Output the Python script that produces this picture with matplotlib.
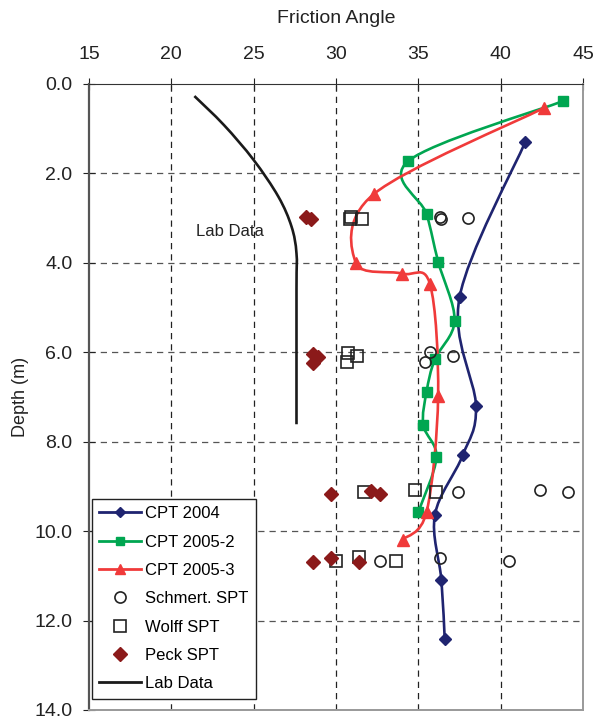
import matplotlib
matplotlib.use("Agg")
import matplotlib.pyplot as plt
from matplotlib.path import Path
from matplotlib.patches import PathPatch
from matplotlib.lines import Line2D
import numpy as np

plt.rcParams['font.family'] = ['Liberation Sans', 'DejaVu Sans']

# friction angle (deg) vs depth (m)
cpt2004_phi = [41.5, 37.5, 38.5, 37.7, 36.0, 36.4, 36.6]
cpt2004_z = [1.29, 4.77, 7.20, 8.30, 9.64, 11.10, 12.42]

cpt2005_2_phi = [43.8, 34.4, 35.5, 36.2, 37.2, 36.0, 35.5, 35.3, 36.1, 35.0]
cpt2005_2_z = [0.38, 1.72, 2.91, 3.97, 5.29, 6.16, 6.88, 7.63, 8.35, 9.57]

cpt2005_3_phi = [42.6, 32.3, 31.2, 34.0, 35.7, 36.2, 35.5, 34.05]
cpt2005_3_z = [0.54, 2.46, 4.00, 4.24, 4.47, 6.98, 9.57, 10.19]

schmert_phi = [36.3, 36.4, 38.0, 35.7, 35.4, 37.1, 37.4, 42.4, 44.1, 32.7, 36.3, 40.5]
schmert_z = [2.97, 3.03, 3.00, 6.00, 6.22, 6.09, 9.13, 9.08, 9.13, 10.66, 10.60, 10.66]

wolff_phi = [30.9, 30.85, 31.6, 30.75, 30.65, 31.3, 31.7, 34.8, 36.1, 30.0, 31.4, 33.65]
wolff_z = [2.98, 3.03, 3.03, 6.01, 6.22, 6.09, 9.13, 9.08, 9.13, 10.66, 10.59, 10.66]

peck_phi = [28.2, 28.5, 28.6, 28.9, 28.6, 29.7, 32.1, 32.7, 28.6, 29.7, 31.4]
peck_z = [2.98, 3.03, 6.03, 6.10, 6.23, 9.16, 9.10, 9.16, 10.69, 10.61, 10.69]

lab_phi = [21.4, 23.2, 25.0, 26.5, 27.3, 27.6, 27.6, 27.6]
lab_z = [0.27, 0.92, 1.70, 2.52, 3.19, 3.79, 4.6, 7.61]


def smooth_path(xs, ys):
    # Catmull-Rom style bezier through the points (like a smoothed spreadsheet line)
    p = np.column_stack([xs, ys]).astype(float)
    n = len(p)
    verts = [p[0]]
    codes = [Path.MOVETO]
    for i in range(n - 1):
        p0 = p[i - 1] if i > 0 else p[i]
        p3 = p[i + 2] if i + 2 < n else p[i + 1]
        c1 = p[i] + (p[i + 1] - p0) / 6.0
        c2 = p[i + 1] - (p3 - p[i]) / 6.0
        verts += [c1, c2, p[i + 1]]
        codes += [Path.CURVE4] * 3
    return Path(verts, codes)


fig = plt.figure(figsize=(5.98, 7.21), dpi=100)
ax = fig.add_axes([0.1488, 0.0153, 0.8262, 0.8682])

navy = '#1f2470'
green = '#00a651'
red = '#f03a3a'
maroon = '#8b1a1a'

series = [
    (cpt2004_phi, cpt2004_z, navy, 'D', 6),
    (cpt2005_2_phi, cpt2005_2_z, green, 's', 7),
    (cpt2005_3_phi, cpt2005_3_z, red, '^', 8),
]
for phi, z, col, mk, ms in series:
    ax.add_patch(PathPatch(smooth_path(phi, z), facecolor='none', edgecolor=col,
                           lw=1.9, zorder=3))
    ax.plot(phi, z, linestyle='none', marker=mk, color=col, ms=ms, zorder=4)

ax.add_patch(PathPatch(smooth_path(lab_phi, lab_z), facecolor='none',
                       edgecolor='#1a1a1a', lw=1.9, zorder=3))

ax.plot(schmert_phi, schmert_z, linestyle='none', marker='o', mfc='none',
        mec='#222222', ms=8, mew=1.2, zorder=5)
ax.plot(wolff_phi, wolff_z, linestyle='none', marker='s', mfc='none',
        mec='#222222', ms=8.5, mew=1.2, zorder=5)
ax.plot(peck_phi, peck_z, linestyle='none', marker='D', color=maroon,
        ms=7, zorder=5)

ax.text(21.5, 3.3, 'Lab Data', fontsize=12, va='center', ha='left', color='#222222')

ax.set_xlim(15, 45)
ax.set_ylim(14, 0)
ax.xaxis.tick_top()
ax.xaxis.set_label_position('top')
ax.set_xticks(np.arange(15, 46, 5))
ax.set_yticks(np.arange(0, 15, 2))
ax.set_yticklabels([f'{v:.1f}' for v in np.arange(0, 15, 2)])
ax.set_xlabel('Friction Angle', fontsize=14, labelpad=17, color='#222222')
ax.set_ylabel('Depth (m)', fontsize=13, labelpad=4, color='#222222')
ax.tick_params(axis='x', direction='inout', length=8, labelsize=14, pad=11,
               colors='#222222')
ax.tick_params(axis='y', direction='inout', length=8, labelsize=14, pad=8,
               colors='#222222')

for x in range(20, 45, 5):
    ax.axvline(x, color='#222222', lw=0.9, ls=(0, (5, 4)), zorder=1)
for y in range(2, 14, 2):
    ax.axhline(y, color='#555555', lw=0.9, ls=(0, (5, 4)), zorder=1)

ax.spines['top'].set_color('#333333')
ax.spines['left'].set_color('#555555')
ax.spines['left'].set_linewidth(1.6)
ax.spines['right'].set_color('#999999')
ax.spines['bottom'].set_color('#999999')
ax.spines['right'].set_linewidth(1.4)
ax.spines['bottom'].set_linewidth(1.4)

handles = [
    Line2D([], [], color=navy, lw=2, marker='D', ms=5),
    Line2D([], [], color=green, lw=2, marker='s', ms=6),
    Line2D([], [], color=red, lw=2, marker='^', ms=7),
    Line2D([], [], linestyle='none', marker='o', mfc='none', mec='#222222', ms=8, mew=1.2),
    Line2D([], [], linestyle='none', marker='s', mfc='none', mec='#222222', ms=8, mew=1.2),
    Line2D([], [], linestyle='none', marker='D', color=maroon, ms=7),
    Line2D([], [], color='#1a1a1a', lw=2),
]
labels = ['CPT 2004', 'CPT 2005-2', 'CPT 2005-3', 'Schmert. SPT', 'Wolff SPT',
          'Peck SPT', 'Lab Data']
leg = ax.legend(handles, labels, loc='lower left', bbox_to_anchor=(0.006, 0.018),
                fontsize=12, frameon=True, fancybox=False, edgecolor='#222222',
                framealpha=1, handlelength=2.5, handletextpad=0.25,
                labelspacing=0.8, borderpad=0.45, borderaxespad=0)
leg.get_frame().set_linewidth(1.0)

fig.savefig('out.png', dpi=100)
